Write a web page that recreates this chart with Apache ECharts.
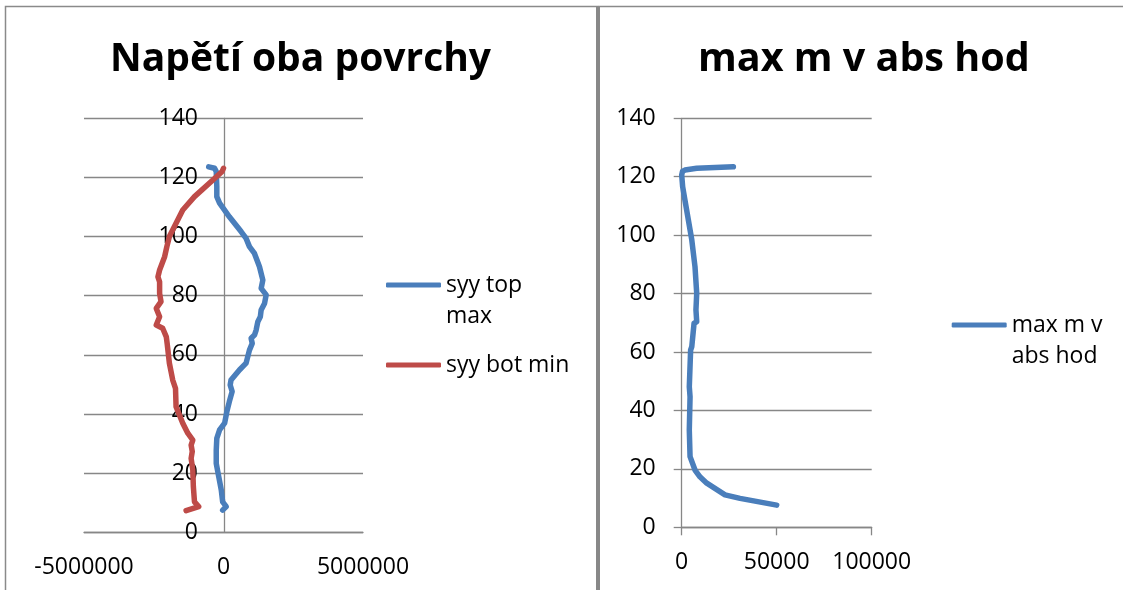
<!DOCTYPE html>
<html>
<head>
<meta charset="utf-8">
<script src="https://cdn.jsdelivr.net/npm/echarts@6/dist/echarts.min.js"></script>
<style>
html,body{margin:0;padding:0;background:#fff;}
#c{width:1123px;height:590px;}
</style>
</head>
<body>
<div id="c"></div>
<script>
// ---- Data ----
const titles = ['Napětí oba povrchy', 'max m v abs hod'];
const seriesNames = ['syy top max', 'syy bot min', 'max m v abs hod'];
// legend text wrapped as in the reference (leading blank line keeps the icon on the first line)
const legendLabels = ['\nsyy top\nmax', 'syy bot min', '\nmax m v\nabs hod'];

// [x value, y value]
const syyTopMax = [
  [-530000,123.6],[-320000,123.1],[-260000,122.0],[-240000,117.0],[-240000,113.5],
  [-140000,111.3],[210000,106.7],[630000,101.7],[810000,99.4],[930000,96.6],
  [1110000,94.3],[1290000,89.8],[1410000,85.3],[1350000,82.5],[1530000,80.3],
  [1470000,77.4],[1350000,75.2],[1320000,72.9],[1230000,71.2],[1170000,68.4],
  [1110000,66.7],[990000,65.6],[1030000,63.9],[930000,61.6],[810000,57.2],
  [570000,54.9],[270000,51.5],[240000,49.8],[310000,47.6],[210000,44.2],
  [120000,40.8],[40000,36.9],[-140000,34.6],[-240000,31.8],[-260000,27.8],
  [-260000,23.3],[-170000,18.8],[-80000,14.3],[-30000,10.3],[100000,8.7],[-30000,7.5]
];
const syyBotMin = [
  [0,123.1],[-50000,122.0],[-380000,119.1],[-1040000,113.5],[-1460000,109.0],
  [-1700000,104.5],[-1940000,100.0],[-2030000,96.6],[-2110000,93.2],[-2290000,88.7],
  [-2350000,86.4],[-2290000,84.7],[-2290000,80.8],[-2240000,78.0],[-2410000,75.7],
  [-2290000,72.9],[-2410000,70.1],[-2180000,69.0],[-2050000,66.1],[-2020000,63.9],
  [-1940000,57.2],[-1820000,51.5],[-1720000,48.7],[-1700000,42.5],[-1460000,36.9],
  [-1280000,33.5],[-1100000,31.2],[-1160000,29.5],[-1120000,27.3],[-1160000,25.0],
  [-1100000,21.1],[-1080000,15.4],[-1040000,10.3],[-890000,8.7],[-1340000,7.3]
];
const maxMAbs = [
  [27200,123.4],[7900,122.9],[1700,122.3],[400,121.8],[0,120.6],[500,116.6],
  [2600,108.6],[5300,98.4],[7000,89.2],[7900,80.1],[7500,74.4],[7900,70.4],
  [6500,69.8],[5300,61.8],[4700,60.7],[4000,48.1],[4400,44.7],[4000,33.3],
  [4400,24.2],[7000,19.6],[9600,17.3],[13200,15.1],[22800,11.1],[30700,9.9],[50000,7.6]
];

const leftXRange = [-5000000, 5000000, 5000000];   // min, max, interval
const rightXRange = [0, 100000, 50000];
const yRange = [0, 140, 20];

// ---- Styling ----
const FONT = 'Open Sans';
const GRID_COLOR = '#878787';
const BLUE = '#4A7EBB';
const RED = '#BE4B48';

const chart = echarts.init(document.getElementById('c'), null, {renderer: 'canvas'});

function labelFmt(v) { return String(v); }

function xAxisCfg(gridIndex, r, ticks) {
  return {
    type: 'value', gridIndex: gridIndex, min: r[0], max: r[1], interval: r[2],
    axisLine: {show: true, onZero: true, lineStyle: {color: GRID_COLOR, width: 1.3}},
    axisTick: {show: ticks, length: 8, lineStyle: {color: GRID_COLOR, width: 1.3}},
    splitLine: {show: false},
    axisLabel: {formatter: labelFmt, color: '#000', fontFamily: FONT, fontSize: 23, margin: 24}
  };
}
function yAxisCfg(gridIndex, ticks, offset) {
  return {
    type: 'value', gridIndex: gridIndex, min: yRange[0], max: yRange[1], interval: yRange[2],
    position: 'left', offset: offset,
    axisLine: {show: true, onZero: false, lineStyle: {color: GRID_COLOR, width: 1.3}},
    axisTick: {show: ticks, length: 8, lineStyle: {color: GRID_COLOR, width: 1.3}},
    splitLine: {show: true, lineStyle: {color: GRID_COLOR, width: 1.3}},
    axisLabel: {formatter: labelFmt, color: '#000', fontFamily: FONT, fontSize: 23, margin: 26}
  };
}
function legendCfg(idx, left, top) {
  return {
    data: [seriesNames[idx]], orient: 'vertical', left: left, top: top, padding: 0,
    icon: 'roundRect', itemWidth: 55, itemHeight: 5,
    formatter: function () { return legendLabels[idx]; },
    textStyle: {color: '#000', fontFamily: FONT, fontSize: 23, lineHeight: 31},
    selectedMode: false
  };
}
function lineSeries(idx, data, color, xi) {
  return {
    name: seriesNames[idx], type: 'line', xAxisIndex: xi, yAxisIndex: xi,
    data: data, symbol: 'none', smooth: false, animation: false,
    lineStyle: {color: color, width: 5.5, cap: 'round', join: 'round'},
    itemStyle: {color: color}
  };
}

chart.setOption({
  backgroundColor: '#fff',
  animation: false,
  title: [
    {text: titles[0], left: 110, top: 40, padding: 0,
     textStyle: {fontFamily: FONT, fontWeight: 'bold', fontSize: 39, color: '#000'}},
    {text: titles[1], left: 698, top: 40, padding: 0,
     textStyle: {fontFamily: FONT, fontWeight: 'bold', fontSize: 39.5, color: '#000'}}
  ],
  grid: [
    {left: 84, top: 118.3, width: 279, height: 414, containLabel: false},
    {left: 681.7, top: 118.3, width: 190, height: 409, containLabel: false}
  ],
  xAxis: [xAxisCfg(0, leftXRange, false), xAxisCfg(1, rightXRange, true)],
  yAxis: [yAxisCfg(0, false, -140), yAxisCfg(1, true, 0)],
  legend: [
    legendCfg(0, 386, 238.5),
    legendCfg(1, 386, 349.5),
    legendCfg(2, 951.7, 278.5)
  ],
  series: [
    lineSeries(0, syyTopMax, BLUE, 0),
    lineSeries(1, syyBotMin, RED, 0),
    lineSeries(2, maxMAbs, BLUE, 1)
  ],
  graphic: [
    {type: 'rect', silent: true, shape: {x: 5.5, y: 6.5, width: 592, height: 700},
     style: {fill: 'none', stroke: '#8a8a8a', lineWidth: 1.5}},
    {type: 'line', silent: true, shape: {x1: 598, y1: 6, x2: 598, y2: 600},
     style: {stroke: '#888', lineWidth: 4}},
    {type: 'line', silent: true, shape: {x1: 598, y1: 6.5, x2: 1130, y2: 6.5},
     style: {stroke: '#8a8a8a', lineWidth: 1.5}}
  ]
});
</script>
</body>
</html>
